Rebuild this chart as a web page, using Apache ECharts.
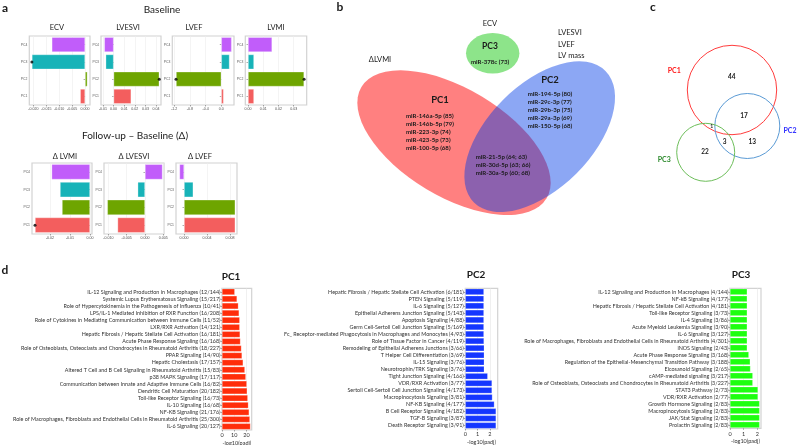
<!DOCTYPE html>
<html><head><meta charset="utf-8">
<script src="https://cdn.jsdelivr.net/npm/echarts@6/dist/echarts.min.js"></script>
<style>html,body{margin:0;padding:0;background:#fff}#c{width:798px;height:445px}</style>
</head><body><div id="c"></div>
<script>
// ---------------- DATA ----------------
const pcCats = ['PC1','PC2','PC3','PC4'];
const baselineECV    = [-0.0019, 0.0009, -0.0206, -0.0129];
const baselineLVESVI = [0.0166, 0.0431, -0.0075, -0.0088];
const baselineLVEF   = [0.06, -1.155, 0.21, 0.265];
const baselineLVMI   = [0.0039, 0.0368, 0.0039, 0.0158];
const deltaLVMI      = [-0.0275, -0.014, -0.015, -0.0192];
const deltaLVESVI    = [-0.0075, -0.0103, -0.002, 0.0048];
const deltaLVEF      = [0.0089, 0.0089, 0.0016, -0.0008];
const sigBaseline = ['PC3','PC2','PC2','PC2'];
const sigDelta    = ['PC1', null, null];
const ticksECV      = ['-0.020','-0.015','-0.010','-0.005','0.000'];
const ticksLVESVI   = ['-0.01','0.00','0.01','0.02','0.03','0.04'];
const ticksLVEF     = ['-1.2','-0.8','-0.4','0.0'];
const ticksLVMI     = ['0.00','0.01','0.02','0.03'];
const ticksDLVMI    = ['-0.02','-0.01','0.00'];
const ticksDLVESVI  = ['-0.010','-0.005','0.000','0.005'];
const ticksDLVEF    = ['0.000','0.004','0.008'];

const vennBMirsPC1 = ['miR-146a-5p (85)','miR-146b-5p (79)','miR-223-3p (74)','miR-423-5p (73)','miR-100-5p (68)'];
const vennBMirsPC2 = ['miR-194-5p (80)','miR-29c-3p (77)','miR-29b-3p (75)','miR-29a-3p (69)','miR-150-5p (68)'];
const vennBMirsShared = ['miR-21-5p (64; 63)','miR-30d-5p (63; 66)','miR-30a-5p (60; 68)'];
const vennBMirsPC3 = ['miR-378c (73)'];
const vennBTraitsPC2 = ['LVESVI','LVEF','LV mass'];
const vennCCounts = {pc1: 44, pc1pc2: 17, pc2: 13, pc3: 22, pc2pc3: 3, pc1pc3: 1};

const pc1Pathways = ['IL-12 Signaling and Production in Macrophages (12/144)','Systemic Lupus Erythematosus Signaling (15/217)','Role of Hypercytokinemia in the Pathogenesis of Influenza (10/41)','LPS/IL-1 Mediated Inhibition of RXR Function (16/208)','Role of Cytokines in Mediating Communication between Immune Cells (11/52)','LXR/RXR Activation (14/121)','Hepatic Fibrosis / Hepatic Stellate Cell Activation (16/181)','Acute Phase Response Signaling (16/168)','Role of Osteoblasts, Osteoclasts and Chondrocytes in Rheumatoid Arthritis (18/227)','PPAR Signaling (14/90)','Hepatic Cholestasis (17/157)','Altered T Cell and B Cell Signaling in Rheumatoid Arthritis (15/83)','p38 MAPK Signaling (17/117)','Communication between Innate and Adaptive Immune Cells (16/82)','Dendritic Cell Maturation (20/182)','Toll-like Receptor Signaling (16/73)','IL-10 Signaling (16/68)','NF-KB Signaling (21/176)','Role of Macrophages, Fibroblasts and Endothelial Cells in Rheumatoid Arthritis (25/300)','IL-6 Signaling (20/127)'];
const pc1Values = [10.4,12.3,13.4,14.0,14.5,14.5,14.8,15.1,15.9,16.4,17.3,18.7,19.5,20.3,20.6,21.1,21.6,22.2,22.8,23.3];
const pc2Pathways = ['Hepatic Fibrosis / Hepatic Stellate Cell Activation (6/181)','PTEN Signaling (5/119)','IL-6 Signaling (5/127)','Epithelial Adherens Junction Signaling (5/143)','Apoptosis Signaling (4/88)','Germ Cell-Sertoli Cell Junction Signaling (5/169)','Fc_ Receptor-mediated Phagocytosis in Macrophages and Monocytes (4/93)','Role of Tissue Factor in Cancer (4/119)','Remodeling of Epithelial Adherens Junctions (3/66)','T Helper Cell Differentiation (3/69)','IL-15 Signaling (3/76)','Neurotrophin/TRK Signaling (3/76)','Tight Junction Signaling (4/166)','VDR/RXR Activation (3/77)','Sertoli Cell-Sertoli Cell Junction Signaling (4/173)','Macropinocytosis Signaling (3/81)','NF-KB Signaling (4/177)','B Cell Receptor Signaling (4/182)','TGF-B Signaling (3/87)','Death Receptor Signaling (3/91)'];
const pc2Values = [1.51,1.51,1.51,1.51,1.51,1.51,1.51,1.52,1.54,1.54,1.54,1.54,1.82,2.17,2.17,2.2,2.36,2.5,2.5,2.5];
const pc3Pathways = ['IL-12 Signaling and Production in Macrophages (4/144)','NF-kB Signaling (4/177)','Hepatic Fibrosis / Hepatic Stellate Cell Activation (4/181)','Toll-like Receptor Signaling (3/73)','IL-4 Signaling (3/86)','Acute Myeloid Leukemia Signaling (3/90)','IL-6 Signaling (3/127)','Role of Macrophages, Fibroblasts and Endothelial Cells in Rheumatoid Arthritis (4/301)','iNOS Signaling (2/43)','Acute Phase Response Signaling (3/168)','Regulation of the Epithelial-Mesenchymal Transition Pathway (3/188)','Eicosanoid Signaling (2/65)','cAMP-mediated signaling (3/217)','Role of Osteoblasts, Osteoclasts and Chondrocytes in Rheumatoid Arthritis (3/227)','STAT3 Pathway (2/73)','VDR/RXR Activation (2/77)','Growth Hormone Signaling (2/83)','Macropinocytosis Signaling (2/83)','JAK/Stat Signaling (2/83)','Prolactin Signaling (2/83)'];
const pc3Values = [1.26,1.26,1.26,1.26,1.26,1.26,1.26,1.26,1.26,1.38,1.48,1.5,1.67,1.67,2.05,2.05,2.17,2.17,2.17,2.17];
const ticksPC1 = ['0','10','20'];
const ticksPC2 = ['0','1','2'];
const ticksPC3 = ['0','1','2'];

// ---------------- STYLE / LAYOUT ----------------
const pcColors = ['#F35E5E','#6EA500','#17B3B8','#C15DFA'];
const FONT = 'Lato, "Liberation Sans", sans-serif';
const GGFONT = '"Liberation Sans", Arial, sans-serif';
const grids = [], xAxes = [], yAxes = [], series = [], graphics = [];

function addText(text, x, y, size, opt) {
  opt = opt || {};
  graphics.push({type:'text', x:x, y:y, silent:true, z:50, style:{text:text, fontSize:size, fontFamily: opt.font||FONT,
    fontWeight: opt.bold?'bold':'normal', fill: opt.color||'#1a1a1a', align: opt.align||'center', verticalAlign:'middle'}});
}
function tickFmt(labels) {
  const nums = labels.map(Number);
  return {nums: nums, fmt: function(v){ const i = nums.findIndex(n => Math.abs(n - v) < 1e-9); return i >= 0 ? labels[i] : ''; }};
}
function addGrid(box, show) {
  const g = grids.length;
  grids.push({left:box[0], top:box[1], width:box[2], height:box[3], show:!!show, borderColor:'#d2d2d2', borderWidth:1.2,
    backgroundColor:'#fff', containLabel:false, outerBoundsMode:'none'});
  return g;
}
function addPcPanel(box, range, values, tickLabels, sigPc) {
  const g = addGrid(box, true);
  const t = tickFmt(tickLabels);
  xAxes.push({gridIndex:g, type:'value', min:range[0], max:range[1],
    axisLine:{show:false},
    axisTick:{show:true, length:1.5, customValues:t.nums, lineStyle:{color:'#555', width:0.5}},
    axisLabel:{customValues:t.nums, formatter:t.fmt, fontSize:3.6, color:'#4d4d4d', margin:2, fontFamily:GGFONT},
    splitLine:{show:true, lineStyle:{color:'#ececec', width:0.6}}});
  yAxes.push({gridIndex:g, type:'category', data:pcCats,
    axisLine:{show:false}, axisTick:{show:true, alignWithLabel:true, length:1.5, lineStyle:{color:'#555', width:0.5}},
    axisLabel:{fontSize:3.4, color:'#5a5a5a', margin:2, fontFamily:GGFONT}, splitLine:{show:false}});
  series.push({type:'bar', xAxisIndex:g, yAxisIndex:g, barWidth:'86%', silent:true,
    data: values.map((v,i) => ({value:v, itemStyle:{color:pcColors[i], borderColor:'rgba(255,255,255,0.5)', borderWidth:0.6}}))});
  if (sigPc) {
    series.push({type:'scatter', xAxisIndex:g, yAxisIndex:g, symbolSize:3, silent:true, z:5, itemStyle:{color:'#000'},
      data:[[values[pcCats.indexOf(sigPc)], sigPc]]});
  }
}
function addPathwayPanel(box, max, cats, values, tickLabels, color) {
  const g = addGrid(box, true);
  const t = tickFmt(tickLabels);
  xAxes.push({gridIndex:g, type:'value', min:0, max:max,
    name:'-log10(padj)', nameLocation:'middle', nameGap:10, nameTextStyle:{fontSize:5.5, color:'#333', fontFamily:FONT},
    axisLine:{show:false},
    axisTick:{show:true, length:1.5, customValues:t.nums, lineStyle:{color:'#555', width:0.5}},
    axisLabel:{customValues:t.nums, formatter:t.fmt, fontSize:5.5, color:'#333', margin:2.5, fontFamily:FONT},
    splitLine:{show:true, lineStyle:{color:'#e6e6e6', width:0.6}}});
  yAxes.push({gridIndex:g, type:'category', data:cats, inverse:true,
    axisLine:{show:false}, axisTick:{show:true, alignWithLabel:true, length:1.5, lineStyle:{color:'#555', width:0.5}},
    axisLabel:{fontSize:5.4, color:'#333', margin:1.5, fontFamily:FONT, interval:0}, splitLine:{show:false}});
  series.push({type:'bar', xAxisIndex:g, yAxisIndex:g, barCategoryGap:'12%', silent:true,
    itemStyle:{color:color, borderColor:'rgba(255,255,255,0.45)', borderWidth:0.5}, data:values});
}
function addHiddenGrid(box) {
  const g = addGrid(box, false);
  xAxes.push({gridIndex:g, type:'value', min:0, max:box[2], show:false});
  yAxes.push({gridIndex:g, type:'value', min:0, max:box[3], inverse:true, show:false});
  return g;
}

// ---------- Panel a ----------
addText('a', 2, 8, 12, {bold:true, align:'left'});
addText('Baseline', 162, 10, 10);
addText('ECV', 57, 28, 7.5); addText('LVESVI', 128, 28, 7.5); addText('LVEF', 194, 28, 7.5); addText('LVMI', 276, 28, 7.5);
addPcPanel([29.3,36,60.7,69], [-0.0216,0.0019], baselineECV, ticksECV, sigBaseline[0]);
addPcPanel([101,36,60,69], [-0.0119,0.0447], baselineLVESVI, ticksLVESVI, sigBaseline[1]);
addPcPanel([172.3,36,61.7,69], [-1.25,0.324], baselineLVEF, ticksLVEF, sigBaseline[2]);
addPcPanel([245.3,36,61.4,69], [-0.0018,0.0385], baselineLVMI, ticksLVMI, sigBaseline[3]);
addText('Follow-up \u2013 Baseline (\u0394)', 135, 136, 10);
addText('\u0394 LVMI', 65, 156.5, 7.5); addText('\u0394 LVESVI', 134, 156.5, 7.5); addText('\u0394 LVEF', 200, 156.5, 7.5);
addPcPanel([32,163,60,71], [-0.029,0.001], deltaLVMI, ticksDLVMI, sigDelta[0]);
addPcPanel([104,163,60,71], [-0.0112,0.0052], deltaLVESVI, ticksDLVESVI, sigDelta[1]);
addPcPanel([176,163,61,71], [-0.0014,0.0092], deltaLVEF, ticksDLVEF, sigDelta[2]);

// ---------- Panel b ----------
addText('b', 340, 7, 12, {bold:true});
const gB = addHiddenGrid([310,0,300,250]);
const vennBShapes = [
  {cx:144, cy:142.7, a:108, b:54, rot:-31, fill:'#FF8080', opacity:1},
  {cx:229.7, cy:136.7, a:93, b:52, rot:45, fill:'rgb(0,60,230)', opacity:0.45},
  {cx:182.7, cy:53.3, a:26.7, b:20.3, rot:0, fill:'#8DE48A', opacity:1}
];
series.push({type:'custom', xAxisIndex:gB, yAxisIndex:gB, silent:true,
  data: vennBShapes.map(s => [s.cx, s.cy, s.a, s.b]),
  renderItem: function(params, api) {
    const s = vennBShapes[params.dataIndex];
    const c = api.coord([api.value(0), api.value(1)]);
    const a = api.size([api.value(2), 0])[0];
    const b = api.size([0, api.value(3)])[1];
    return {type:'circle', x:c[0], y:c[1], rotation:s.rot*Math.PI/180, scaleX:a/b,
      shape:{cx:0, cy:0, r:b}, style:{fill:s.fill, opacity:s.opacity}};
  }});
addText('ECV', 490, 24, 7.5);
vennBTraitsPC2.forEach((t,i) => addText(t, 558, 33 + i*11.2, 7.5, {align:'left'}));
addText('\u0394LVMI', 380, 59.3, 7.5);
addText('PC3', 490, 46, 8.5, {bold:true});
vennBMirsPC3.forEach((t,i) => addText(t, 490, 62 + i*8, 6.1, {bold:true}));
addText('PC1', 440, 100, 9.5, {bold:true});
vennBMirsPC1.forEach((t,i) => addText(t, 406, 116 + i*8, 6.1, {bold:true, align:'left'}));
addText('PC2', 550, 80, 9.5, {bold:true});
vennBMirsPC2.forEach((t,i) => addText(t, 527.7, 94.3 + i*8, 6.1, {bold:true, align:'left'}));
vennBMirsShared.forEach((t,i) => addText(t, 475.7, 157.3 + i*8, 6.1, {bold:true, align:'left'}));

// ---------- Panel c ----------
addText('c', 653, 7, 12, {bold:true});
const gC = addHiddenGrid([610,0,188,250]);
const vennCShapes = [
  {cx:122, cy:90, r:44.7, stroke:'#FF3D3D'},
  {cx:137.3, cy:126, r:32.5, stroke:'#5B9BD5'},
  {cx:95.7, cy:152.3, r:29, stroke:'#6DBE5A'}
];
series.push({type:'custom', xAxisIndex:gC, yAxisIndex:gC, silent:true,
  data: vennCShapes.map(s => [s.cx, s.cy, s.r]),
  renderItem: function(params, api) {
    const s = vennCShapes[params.dataIndex];
    const c = api.coord([api.value(0), api.value(1)]);
    const r = api.size([api.value(2), 0])[0];
    return {type:'circle', shape:{cx:c[0], cy:c[1], r:r}, style:{fill:'none', stroke:s.stroke, lineWidth:1}};
  }});
addText('PC1', 674.3, 70.7, 7, {bold:true, color:'#FF1A1A'});
addText('PC2', 790, 130.7, 7, {bold:true, color:'#2E2EFF'});
addText('PC3', 664.3, 160, 7, {bold:true, color:'#2E8B2E'});
addText(String(vennCCounts.pc1), 731.7, 77.3, 6.5, {bold:true});
addText(String(vennCCounts.pc1pc2), 744, 116, 6.5, {bold:true});
addText(String(vennCCounts.pc2), 752.3, 141.7, 6.5, {bold:true});
addText(String(vennCCounts.pc3), 705, 151.7, 6.5, {bold:true});
addText(String(vennCCounts.pc2pc3), 724.7, 141.7, 6.5, {bold:true});
addText(String(vennCCounts.pc1pc3), 711.7, 126, 5, {bold:true});

// ---------- Panel d ----------
addText('d', 5, 270, 12, {bold:true});
addText('PC1', 231, 276.5, 10, {bold:true});
addText('PC2', 476, 274.5, 10, {bold:true});
addText('PC3', 741, 274.5, 10, {bold:true});
addPathwayPanel([222,288.3,29.7,141.7], 24.3, pc1Pathways, pc1Values, ticksPC1, '#FF2D0A');
addPathwayPanel([465.3,288.3,32.4,140.7], 2.63, pc2Pathways, pc2Values, ticksPC2, '#1436FF');
addPathwayPanel([730,288.3,31,140], 2.27, pc3Pathways, pc3Values, ticksPC3, '#1EFF10');

const chart = echarts.init(document.getElementById('c'), null, {renderer:'canvas'});
chart.setOption({
  animation:false, backgroundColor:'#fff',
  grid:grids, xAxis:xAxes, yAxis:yAxes, series:series, graphic:{elements:graphics}
});
</script></body></html>
